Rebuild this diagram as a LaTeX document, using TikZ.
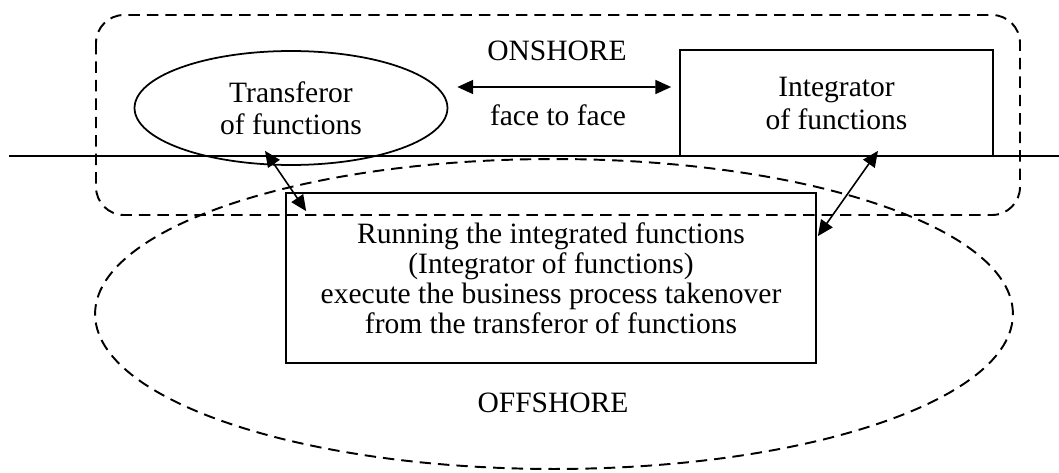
\documentclass[tikz,border=0pt]{standalone}
\usepackage{fontspec}
\setmainfont{Liberation Serif}
\usetikzlibrary{shapes.geometric,arrows.meta}

\begin{document}
\begin{tikzpicture}[
  x=0.02cm, y=-0.02cm,
  font=\fontsize{16.8pt}{18.4pt}\selectfont,
  zone/.style={line width=1.1pt, dash pattern=on 6.5pt off 4pt},
  party/.style={draw, line width=1pt, align=center, inner sep=0pt},
  link/.style={{Triangle[length=9pt,width=8pt]}-{Triangle[length=9pt,width=8pt]}, line width=0.9pt}
]
\useasboundingbox (0,0) rectangle (1059,473);

% onshore box and offshore zone
\draw[zone, rounded corners=0.56cm]
(96,15) rectangle (1020,215);

\draw[zone]
(554,314) ellipse [x radius=9.18cm, y radius=3.1cm];

% coast line
\draw[line width=1pt]
(9,156) -- (1059,156);

\node[party, ellipse, minimum width=6.26cm, minimum height=2.28cm]
(transferor)
at (291,108)
{Transferor\\of functions};

\node[party, minimum width=6.26cm, minimum height=2.12cm,
  font=\fontsize{16.8pt}{18.8pt}\selectfont]
(integrator)
at (836.5,103)
{Integrator\\of functions};

\node[party, minimum width=10.6cm, minimum height=3.4cm,
  font=\fontsize{16.8pt}{17pt}\selectfont]
(running)
at (551,278)
{Running the integrated functions\\(Integrator of functions)\\execute the business process takenover\\from the transferor of functions};

\node[anchor=base]
(onshore)
at (557,61)
{ONSHORE};

\node[anchor=base]
(face)
at (558,126)
{face to face};

\node[anchor=base]
(offshore)
at (553,412)
{OFFSHORE};

% arrow ends
\coordinate (ffL) at ([shift={(0.18cm,0.42cm)}]transferor.east);
\coordinate (ffR) at ([shift={(-0.16cm,0.32cm)}]integrator.west);
\coordinate (tA) at ([shift={(-0.52cm,0.3cm)}]transferor.south);
\coordinate (tB) at ([shift={(0.42cm,-0.38cm)}]running.north west);
\coordinate (iA) at ([shift={(0.83cm,0.12cm)}]integrator.south);
\coordinate (iB) at ([shift={(0.02cm,-0.88cm)}]running.north east);

\draw[link]
(ffL)
--
(ffR);

\draw[link]
(tA)
--
(tB);

\draw[link]
(iA)
--
(iB);

\end{tikzpicture}
\end{document}
